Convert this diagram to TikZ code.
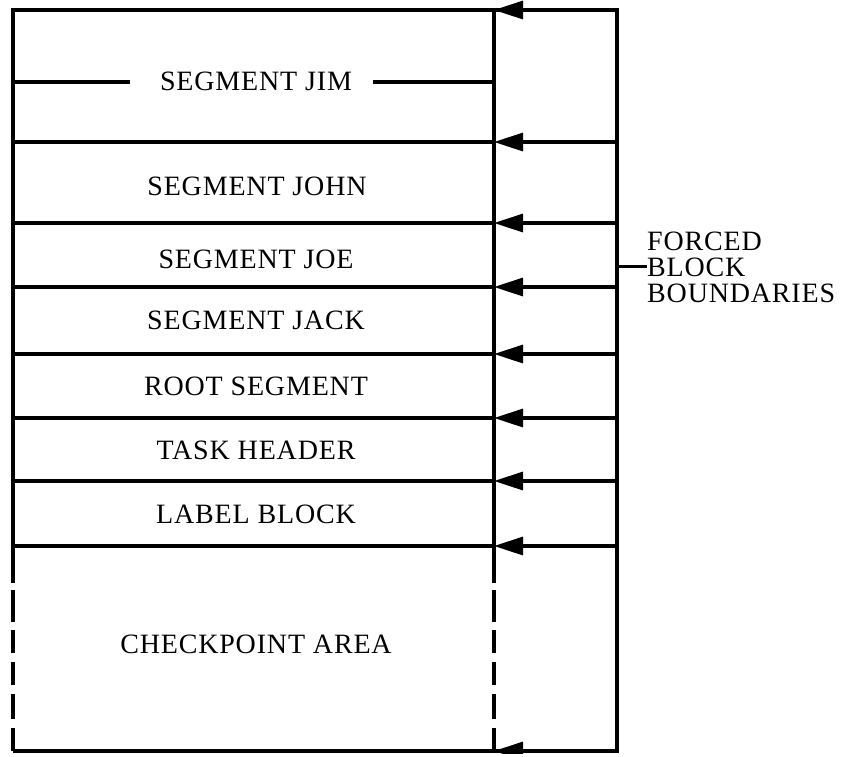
\documentclass[tikz,border=0pt]{standalone}
\usepackage{fontspec}
\setmainfont{Liberation Serif}[LetterSpace=3]
\usetikzlibrary{arrows.meta}
\begin{document}
\begin{tikzpicture}[x=1pt,y=-1pt,
  rule/.style={line width=3.2pt},
  bound/.style={line width=3.2pt,-{Triangle[length=29pt,width=18pt]}},
  lbl/.style={font=\fontsize{28}{30}\selectfont,inner sep=0pt,anchor=base},
  side/.style={font=\fontsize{28}{30}\selectfont,inner sep=0pt,anchor=base west},
  dashrule/.style={line width=3.2pt,dash pattern=on 37pt off 7pt on 32pt off 8pt on 23pt off 9pt on 23pt off 9pt on 25pt off 9pt on 40pt off 0pt}]
\useasboundingbox (0,0) rectangle (842,756);
\clip (0,0) rectangle (842,753.5);
% boundary coordinates
\foreach \i/\y in {0/10,1/142,2/223,3/287,4/354,5/418,6/481,7/546,8/751}{
  \coordinate (L\i) at (13,\y);
  \coordinate (R\i) at (494,\y);
  \coordinate (E\i) at (617,\y);
}
% frame
\draw[rule] (L7) -- (L0) -- (E0) -- (E8) -- (L8);
\draw[rule] (R0) -- (R7);
\draw[dashrule] (L7) -- (L8);
\draw[dashrule] (R7) -- (R8);
\foreach \i in {1,...,7}{\draw[rule] (L\i) -- (R\i);}
% forced block boundary arrows
\foreach \i in {0,...,8}{\draw[bound] (E\i) -- (R\i);}
% labels
\node[lbl] (jim) at (256,90) {SEGMENT JIM};
\node[lbl] (john) at (257,195) {SEGMENT JOHN};
\node[lbl] (joe) at (256,268) {SEGMENT JOE};
\node[lbl] (jack) at (256,329) {SEGMENT JACK};
\node[lbl] (root) at (256,395) {ROOT SEGMENT};
\node[lbl] (task) at (256,459) {TASK HEADER};
\node[lbl] (lblk) at (256,523) {LABEL BLOCK};
\node[lbl] (chk) at (256,653) {CHECKPOINT AREA};
% lines beside SEGMENT JIM
\coordinate (JL) at (13,82);
\coordinate (JL1) at (130,82);
\coordinate (JR1) at (373,82);
\coordinate (JR) at (494,82);
\draw[rule] (JL) -- (JL1);
\draw[rule] (JR1) -- (JR);
% side label
\node[side] (f1) at (647,250) {FORCED};
\node[side] (f2) at (647,276) {BLOCK};
\node[side] (f3) at (647,302) {BOUNDARIES};
\draw[rule] (f2.west -| E0) -- (f2.west);
\end{tikzpicture}
\end{document}
